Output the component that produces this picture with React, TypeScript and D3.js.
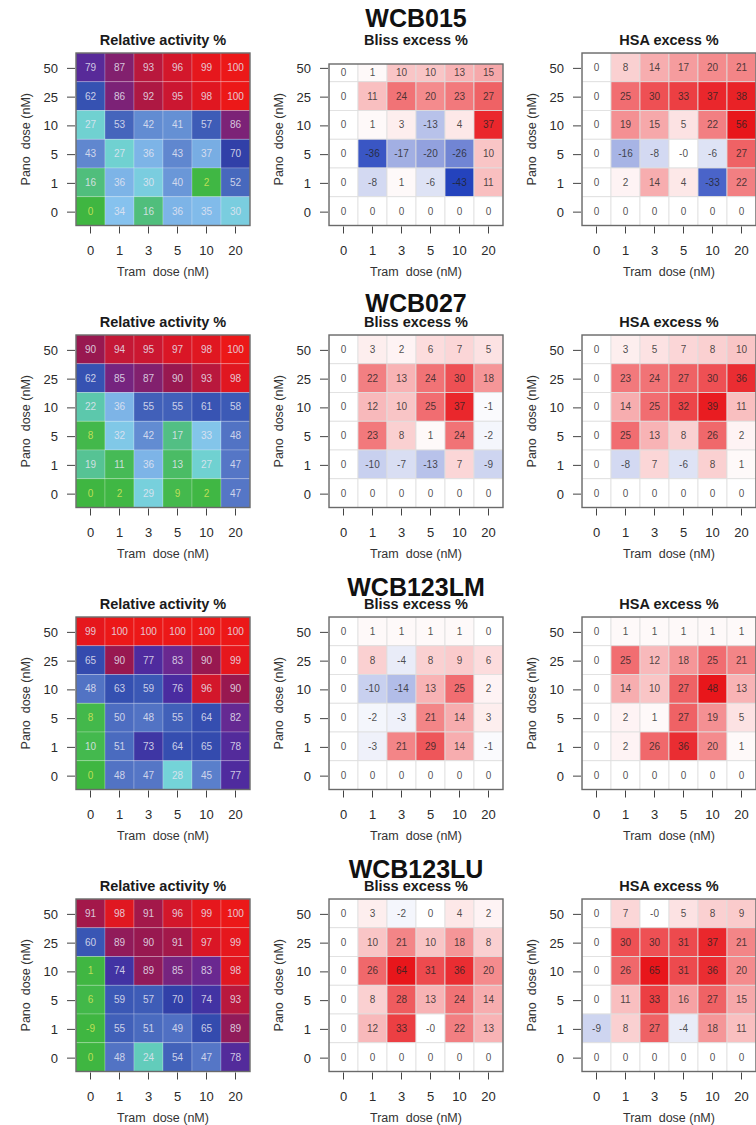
import React, { useEffect, useRef } from 'react';
import * as d3 from 'd3';

const TRAM_DOSES = ["0", "1", "3", "5", "10", "20"];
const PANO_DOSES = ["50", "25", "10", "5", "1", "0"];
const CELL_LINES = ["WCB015", "WCB027", "WCB123LM", "WCB123LU"];
const PANEL_TITLES = ["Relative activity %", "Bliss excess %", "HSA excess %"];

// rows: pano dose 50 -> 0, columns: tram dose 0 -> 20
const WCB015_ACTIVITY = [
  [79, 87, 93, 96, 99, 100],
  [62, 86, 92, 95, 98, 100],
  [27, 53, 42, 41, 57, 86],
  [43, 27, 36, 43, 37, 70],
  [16, 36, 30, 40, 2, 52],
  [0, 34, 16, 36, 35, 30],
];
const WCB015_BLISS = [
  [0, 1, 10, 10, 13, 15],
  [0, 11, 24, 20, 23, 27],
  [0, 1, 3, -13, 4, 37],
  [0, -36, -17, -20, -26, 10],
  [0, -8, 1, -6, -43, 11],
  [0, 0, 0, 0, 0, 0],
];
const WCB015_HSA = [
  [0, 8, 14, 17, 20, 21],
  [0, 25, 30, 33, 37, 38],
  [0, 19, 15, 5, 22, 56],
  [0, -16, -8, -0, -6, 27],
  [0, 2, 14, 4, -33, 22],
  [0, 0, 0, 0, 0, 0],
];

const WCB027_ACTIVITY = [
  [90, 94, 95, 97, 98, 100],
  [62, 85, 87, 90, 93, 98],
  [22, 36, 55, 55, 61, 58],
  [8, 32, 42, 17, 33, 48],
  [19, 11, 36, 13, 27, 47],
  [0, 2, 29, 9, 2, 47],
];
const WCB027_BLISS = [
  [0, 3, 2, 6, 7, 5],
  [0, 22, 13, 24, 30, 18],
  [0, 12, 10, 25, 37, -1],
  [0, 23, 8, 1, 24, -2],
  [0, -10, -7, -13, 7, -9],
  [0, 0, 0, 0, 0, 0],
];
const WCB027_HSA = [
  [0, 3, 5, 7, 8, 10],
  [0, 23, 24, 27, 30, 36],
  [0, 14, 25, 32, 39, 11],
  [0, 25, 13, 8, 26, 2],
  [0, -8, 7, -6, 8, 1],
  [0, 0, 0, 0, 0, 0],
];

const WCB123LM_ACTIVITY = [
  [99, 100, 100, 100, 100, 100],
  [65, 90, 77, 83, 90, 99],
  [48, 63, 59, 76, 96, 90],
  [8, 50, 48, 55, 64, 82],
  [10, 51, 73, 64, 65, 78],
  [0, 48, 47, 28, 45, 77],
];
const WCB123LM_BLISS = [
  [0, 1, 1, 1, 1, 0],
  [0, 8, -4, 8, 9, 6],
  [0, -10, -14, 13, 25, 2],
  [0, -2, -3, 21, 14, 3],
  [0, -3, 21, 29, 14, -1],
  [0, 0, 0, 0, 0, 0],
];
const WCB123LM_HSA = [
  [0, 1, 1, 1, 1, 1],
  [0, 25, 12, 18, 25, 21],
  [0, 14, 10, 27, 48, 13],
  [0, 2, 1, 27, 19, 5],
  [0, 2, 26, 36, 20, 1],
  [0, 0, 0, 0, 0, 0],
];

const WCB123LU_ACTIVITY = [
  [91, 98, 91, 96, 99, 100],
  [60, 89, 90, 91, 97, 99],
  [1, 74, 89, 85, 83, 98],
  [6, 59, 57, 70, 74, 93],
  [-9, 55, 51, 49, 65, 89],
  [0, 48, 24, 54, 47, 78],
];
const WCB123LU_BLISS = [
  [0, 3, -2, 0, 4, 2],
  [0, 10, 21, 10, 18, 8],
  [0, 26, 64, 31, 36, 20],
  [0, 8, 28, 13, 24, 14],
  [0, 12, 33, -0, 22, 13],
  [0, 0, 0, 0, 0, 0],
];
const WCB123LU_HSA = [
  [0, 7, -0, 5, 8, 9],
  [0, 30, 30, 31, 37, 21],
  [0, 26, 65, 31, 36, 20],
  [0, 11, 33, 16, 27, 15],
  [-9, 8, 27, -4, 18, 11],
  [0, 0, 0, 0, 0, 0],
];

const ACTIVITY = [WCB015_ACTIVITY, WCB027_ACTIVITY, WCB123LM_ACTIVITY, WCB123LU_ACTIVITY];
const BLISS = [WCB015_BLISS, WCB027_BLISS, WCB123LM_BLISS, WCB123LU_BLISS];
const HSA = [WCB015_HSA, WCB027_HSA, WCB123LM_HSA, WCB123LU_HSA];

const fmt = (v: number) => (Object.is(v, -0) ? "-0" : String(v));

export default function App() {
  const svgRef = useRef<SVGSVGElement>(null);

  useEffect(() => {
    if (!svgRef.current) return;
    const svg = d3.select(svgRef.current);
    svg.selectAll("*").remove();

    const font = "'Liberation Sans', Arial, Helvetica, sans-serif";
    const gridLeft = [76, 329, 582];
    const rowTop = [53, 335, 617, 899];
    const titleGap = [26, 23, 21, 21];
    const gw = 174;
    const gh = 172.5;

    const x = d3.scaleBand().domain(TRAM_DOSES).range([0, gw]);
    const y = d3.scaleBand().domain(PANO_DOSES).range([0, gh]);

    // green -> cyan -> blue -> purple -> red, like the original palette
    const activityColor = d3.scaleLinear<string>()
      .domain([0, 10, 17, 23, 28, 34, 41, 47, 54, 62, 70, 76, 83, 87, 90, 94, 97, 100])
      .range([
        "#3fb641", "#44b94e", "#52bf84", "#5ecab4", "#74d3d8", "#86c2ee",
        "#6590d4", "#5576c6", "#4262ba", "#3652b2", "#3140a8", "#4a2ca0",
        "#6a2890", "#82206e", "#981850", "#c41836", "#da1626", "#ec1818",
      ])
      .clamp(true);

    const excessColor = d3.scaleLinear<string>()
      .domain([-40, 0, 40])
      .range(["#2443bd", "#ffffff", "#e8161b"])
      .clamp(true);

    CELL_LINES.forEach((line, r) => {
      [ACTIVITY[r], BLISS[r], HSA[r]].forEach((matrix, c) => {
        const isActivity = c === 0;
        // the first Bliss panel is trimmed at the top in the source figure
        const trim = r === 0 && c === 1 ? 11 : 0;
        const g = svg.append("g")
          .attr("transform", `translate(${gridLeft[c]},${rowTop[r]})`);

        const clipId = `clip-${r}-${c}`;
        g.append("clipPath").attr("id", clipId)
          .append("rect")
          .attr("y", trim)
          .attr("width", gw)
          .attr("height", gh - trim);

        const cells = matrix.flatMap((row, i) =>
          row.map((v, j) => ({ pano: PANO_DOSES[i], tram: TRAM_DOSES[j], v }))
        );

        g.append("g").attr("clip-path", `url(#${clipId})`)
          .selectAll("rect.cell")
          .data(cells)
          .enter()
          .append("rect")
          .attr("class", "cell")
          .attr("x", d => x(d.tram) || 0)
          .attr("y", d => y(d.pano) || 0)
          .attr("width", x.bandwidth())
          .attr("height", y.bandwidth())
          .style("fill", d => isActivity ? activityColor(d.v) : excessColor(d.v))
          .style("stroke", isActivity ? "rgba(255,255,255,0.28)" : "#dedede")
          .style("stroke-width", 0.8);

        g.selectAll("text.val")
          .data(cells)
          .enter()
          .append("text")
          .attr("class", "val")
          .attr("x", d => (x(d.tram) || 0) + x.bandwidth() / 2)
          .attr("y", d => {
            const y0 = y(d.pano) || 0;
            return (Math.max(y0, trim) + y0 + y.bandwidth()) / 2;
          })
          .attr("dy", ".35em")
          .attr("text-anchor", "middle")
          .style("font-family", font)
          .style("font-size", "10px")
          .style("fill", d => isActivity ? (d.v < 10 ? "#d6e65a" : "#e6e6f2") : "#222")
          .style("fill-opacity", isActivity ? 0.85 : 0.8)
          .text(d => fmt(d.v));

        // box
        g.append("rect")
          .attr("y", trim)
          .attr("width", gw)
          .attr("height", gh - trim)
          .style("fill", "none")
          .style("stroke", "#6a6a6a")
          .style("stroke-width", 1.4);

        // panel title
        g.append("text")
          .attr("x", gw / 2)
          .attr("y", -8.5)
          .attr("text-anchor", "middle")
          .style("font-family", font)
          .style("font-size", "14.5px")
          .style("font-weight", "bold")
          .style("fill", "#1a1a1a")
          .text(PANEL_TITLES[c]);

        // y axis
        PANO_DOSES.forEach(p => {
          const cy = (y(p) || 0) + y.bandwidth() / 2 + 1;
          g.append("line")
            .attr("x1", -9).attr("x2", -1)
            .attr("y1", cy).attr("y2", cy)
            .style("stroke", "#444").style("stroke-width", 1);
          g.append("text")
            .attr("x", -18)
            .attr("y", cy)
            .attr("dy", ".35em")
            .attr("text-anchor", "end")
            .style("font-family", font)
            .style("font-size", "13px")
            .style("fill", "#2a2a2a")
            .text(p);
        });

        // x axis
        TRAM_DOSES.forEach(t => {
          const cx = (x(t) || 0) + x.bandwidth() / 2;
          g.append("line")
            .attr("x1", cx).attr("x2", cx)
            .attr("y1", gh + 1).attr("y2", gh + 8)
            .style("stroke", "#444").style("stroke-width", 1);
          g.append("text")
            .attr("x", cx)
            .attr("y", gh + 29)
            .attr("text-anchor", "middle")
            .style("font-family", font)
            .style("font-size", "13px")
            .style("fill", "#2a2a2a")
            .text(t);
        });

        g.append("text")
          .attr("x", gw / 2)
          .attr("y", gh + 50)
          .attr("text-anchor", "middle")
          .style("font-family", font)
          .style("font-size", "12.5px")
          .style("fill", "#333")
          .style("white-space", "pre")
          .text("Tram  dose (nM)");

        g.append("text")
          .attr("transform", `translate(-46.5,${gh / 2}) rotate(-90)`)
          .attr("text-anchor", "middle")
          .style("font-family", font)
          .style("font-size", "12.5px")
          .style("fill", "#333")
          .style("white-space", "pre")
          .text("Pano  dose (nM)");
      });

      // cell line name, drawn last so it sits over the panel title as in the source
      svg.append("text")
        .attr("x", gridLeft[1] + gw / 2)
        .attr("y", rowTop[r] - titleGap[r])
        .attr("text-anchor", "middle")
        .style("font-family", font)
        .style("font-size", "25px")
        .style("font-weight", "bold")
        .style("fill", "#111")
        .text(line);
    });
  }, []);

  return (
    <svg
      ref={svgRef}
      width={756}
      height={1125}
      viewBox="0 0 756 1125"
      style={{ position: 'absolute', left: 0, top: 0, background: '#fff' }}
    />
  );
}
